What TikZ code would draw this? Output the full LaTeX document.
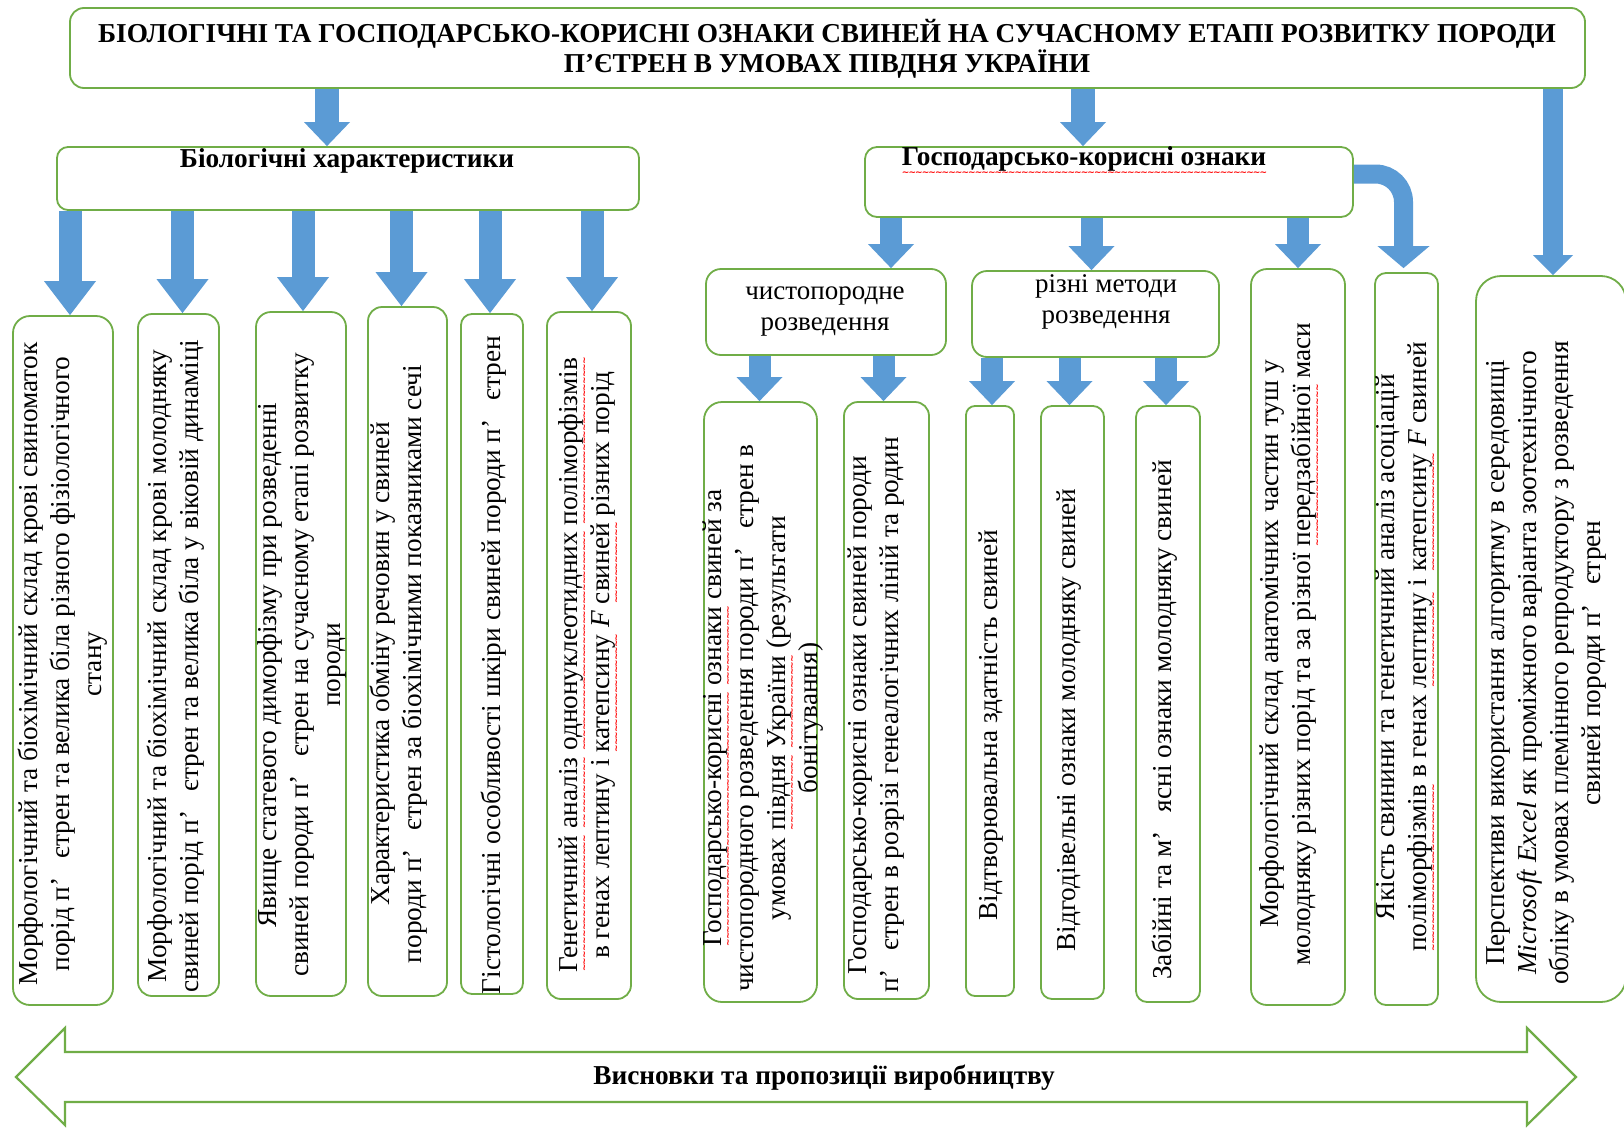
\documentclass[tikz,border=0pt]{standalone}
\usepackage{fontspec}
\setmainfont{Liberation Serif}
\newfontfamily\dejavu{DejaVu Sans}
\usetikzlibrary{arrows.meta}
\definecolor{gline}{HTML}{70AD47}
\definecolor{ablue}{HTML}{5B9BD5}
\newcommand\rw[1]{\leavevmode\setbox0\hbox{#1}\rlap{\raisebox{-9.5pt}{\color{red}\hbox to \wd0{\xleaders\hbox{\fontsize{9}{9}\dejavu\bfseries ∼\kern-1pt}\hfill}}}\box0\relax}
\newcommand\pe{п’\hspace{0.7em}єтрен}
\begin{document}
\begin{tikzpicture}[x=1pt,y=-1pt,
  gbox/.style={draw=gline, line width=1.8pt, fill=white, inner sep=0pt, rounded corners=#1},
  gbox/.default=14pt,
  rtext/.style={rotate=90, align=center, inner sep=0pt, font=\fontsize{27.3}{32}\selectfont},
  htext/.style={align=center, inner sep=0pt, font=\fontsize{27.3}{30}\selectfont\bfseries},
  ptext/.style={align=center, inner sep=0pt, font=\fontsize{27}{31}\selectfont},
  barrow/.style={draw=ablue, line width=22pt, -{Triangle[length=24pt,width=46pt,line width=0pt]}},
  bigarrow/.style={draw=ablue, line width=23pt, -{Triangle[length=34pt,width=52pt,line width=0pt]}},
  thinarrow/.style={draw=ablue, line width=20pt, -{Triangle[length=20pt,width=40pt,line width=0pt]}}
]
\fill[white] (0,0) rectangle (1624,1127);
\useasboundingbox (0,0) rectangle (1624,1127);

% top level boxes
\node[gbox=14pt, minimum width=1515pt, minimum height=80pt] (top) at (827.5,48) {};
\node[htext] (toptxt) at (827,49) {БІОЛОГІЧНІ ТА ГОСПОДАРСЬКО-КОРИСНІ ОЗНАКИ СВИНЕЙ НА СУЧАСНОМУ ЕТАПІ РОЗВИТКУ ПОРОДИ\\П’ЄТРЕН В УМОВАХ ПІВДНЯ УКРАЇНИ};

\node[gbox=11pt, minimum width=582pt, minimum height=63pt] (bio) at (348,178.5) {};
\node[htext] (biotxt) at (347,161) {Біологічні характеристики};

\node[gbox=12pt, minimum width=488pt, minimum height=70pt] (gosp) at (1109,182) {};
\node[htext] (gosptxt) at (1084,161) {\rw{Господарсько-корисні ознаки}};

\node[gbox=15pt, minimum width=240pt, minimum height=86pt] (chist) at (826,312) {};
\node[ptext] (chisttxt) at (825,311.5) {чистопородне\\розведення};

\node[gbox=15pt, minimum width=247pt, minimum height=86pt] (rizni) at (1095.5,314) {};
\node[ptext] (riznitxt) at (1106,302) {різні методи\\розведення};

% vertical boxes
\node[gbox=17pt, minimum width=100pt, minimum height=689pt] (b1) at (63,660.5) {};
\node[gbox=14pt, minimum width=81pt, minimum height=682pt] (b2) at (178.5,655) {};
\node[gbox=15pt, minimum width=90pt, minimum height=684pt] (b3) at (301,654) {};
\node[gbox=14pt, minimum width=79pt, minimum height=689pt] (b4) at (407.5,651.5) {};
\node[gbox=11pt, minimum width=62pt, minimum height=680pt] (b5) at (492,654) {};
\node[gbox=14pt, minimum width=84pt, minimum height=687pt] (b6) at (589,655.5) {};
\node[gbox=18pt, minimum width=113pt, minimum height=600pt] (b7) at (760.5,702) {};
\node[gbox=14pt, minimum width=85pt, minimum height=597pt] (b8) at (886.5,700.5) {};
\node[gbox=9pt, minimum width=48pt, minimum height=590pt] (b9) at (990,701) {};
\node[gbox=11pt, minimum width=63pt, minimum height=593pt] (b10) at (1072.5,702.5) {};
\node[gbox=11pt, minimum width=64pt, minimum height=596pt] (b11) at (1168,704) {};
\node[gbox=16pt, minimum width=94pt, minimum height=736pt] (b12) at (1298,637) {};
\node[gbox=11pt, minimum width=63pt, minimum height=732pt] (b13) at (1406.5,639) {};
\node[gbox=25pt, minimum width=150pt, minimum height=726pt] (b14) at (1551,639) {};

% rotated texts
\node[rtext] (t1) at (63,664) {Морфологічний та біохімічний склад крові свиноматок\\порід \pe{} та велика біла різного фізіологічного\\стану};
\node[rtext] (t2) at (176,666) {Морфологічний та біохімічний склад крові молодняку\\свиней порід \pe{} та велика біла у віковій динаміці};
\node[rtext] (t3) at (302,665) {Явище статевого диморфізму при розведенні\\свиней породи \pe{} на сучасному етапі розвитку\\породи};
\node[rtext] (t4) at (399,664) {Характеристика обміну речовин у свиней\\породи \pe{} за біохімічними показниками сечі};
\node[rtext] (t5) at (494,665) {Гістологічні особливості шкіри свиней породи \pe};
\node[rtext] (t6) at (589,665) {\rw{Генетичний} \rw{аналіз} \rw{однонуклеотидних} \rw{поліморфізмів}\\в генах лептину і \rw{катепсину} \textit{F} \rw{свиней} різних порід};
\node[rtext] (t7) at (763,718) {\rw{Господарсько-корисні} \rw{ознаки} свиней за\\чистопородного розведення породи \pe{} в\\умовах \rw{півдня} \rw{України} (результати\\бонітування)};
\node[rtext] (t8) at (876,715) {Господарсько-корисні ознаки свиней породи\\\pe{} в розрізі генеалогічних ліній та родин};
\node[rtext] (t9) at (991,725) {Відтворювальна здатність свиней};
\node[rtext] (t10) at (1069,720) {Відгодівельні ознаки молодняку свиней};
\node[rtext] (t11) at (1165,720) {Забійні та м’\hspace{0.7em}ясні ознаки молодняку свиней};
\node[rtext] (t12) at (1290,644) {Морфологічний склад анатомічних частин туш у\\молодняку різних порід та за різної \rw{передзабійної} маси};
\node[rtext] (t13) at (1406,647) {Якість свинини та генетичний аналіз асоціацій\\\rw{поліморфізмів} в генах \rw{лептину} і \rw{катепсину} \textit{F} свиней};
\node[rtext] (t14) at (1546,663) {Перспективи використання алгоритму в середовищі\\\textit{Microsoft Excel} як проміжного варіанта зоотехнічного\\обліку в умовах племінного репродуктору з розведення\\свиней породи \pe};

% bottom double arrow
\draw[gline, line width=2.2pt, fill=white, line join=miter]
  (16,1077) -- (65,1028) -- (65,1052) -- (1527,1052) -- (1527,1028) -- (1576,1077)
  -- (1527,1125) -- (1527,1102) -- (65,1102) -- (65,1125) -- cycle;
\node[htext] (concl) at (824,1078) {Висновки та пропозиції виробництву};

% arrows from title
\draw[barrow, line width=24pt, -{Triangle[length=24pt,width=46pt,line width=0pt]}]
  ([xshift=-21pt]bio.north |- top.south) -- ([xshift=-21pt]bio.north);
\draw[barrow, line width=24pt, -{Triangle[length=24pt,width=46pt,line width=0pt]}]
  ([xshift=-26pt]gosp.north |- top.south) -- ([xshift=-26pt]gosp.north);
\draw[thinarrow] ([xshift=2pt]b14.north |- top.south) -- ([xshift=2pt]b14.north);

% arrows from biological characteristics
\draw[bigarrow] ([xshift=7pt]b1.north |- bio.south) -- ([xshift=7pt]b1.north);
\draw[bigarrow] ([xshift=4pt]b2.north |- bio.south) -- ([xshift=4pt]b2.north);
\draw[bigarrow] ([xshift=2pt]b3.north |- bio.south) -- ([xshift=2pt]b3.north);
\draw[bigarrow] ([xshift=-6pt]b4.north |- bio.south) -- ([xshift=-6pt]b4.north);
\draw[bigarrow] ([xshift=-2pt]b5.north |- bio.south) -- ([xshift=-2pt]b5.north);
\draw[bigarrow] ([xshift=3pt]b6.north |- bio.south) -- ([xshift=3pt]b6.north);

% arrows from economic traits
\draw[barrow] ([xshift=65pt]chist.north |- gosp.south) -- ([xshift=65pt]chist.north);
\draw[barrow] ([xshift=-4pt]rizni.north |- gosp.south) -- ([xshift=-4pt]rizni.north);
\draw[barrow] (b12.north |- gosp.south) -- (b12.north);
\draw[barrow, line width=19pt, rounded corners=28pt, -{Triangle[length=22pt,width=52pt,line width=0pt]}]
  ([yshift=8pt]gosp.east) -| ([xshift=-3pt,yshift=4pt]b13.north);

% arrows from breeding boxes
\draw[barrow] ([xshift=-1pt]b7.north |- chist.south) -- ([xshift=-1pt]b7.north);
\draw[barrow] ([xshift=-3pt]b8.north |- chist.south) -- ([xshift=-3pt]b8.north);
\draw[barrow] ([xshift=2pt]b9.north |- rizni.south) -- ([xshift=2pt]b9.north);
\draw[barrow] ([xshift=-3pt]b10.north |- rizni.south) -- ([xshift=-3pt]b10.north);
\draw[barrow] ([xshift=-2pt]b11.north |- rizni.south) -- ([xshift=-2pt]b11.north);
\end{tikzpicture}
\end{document}
